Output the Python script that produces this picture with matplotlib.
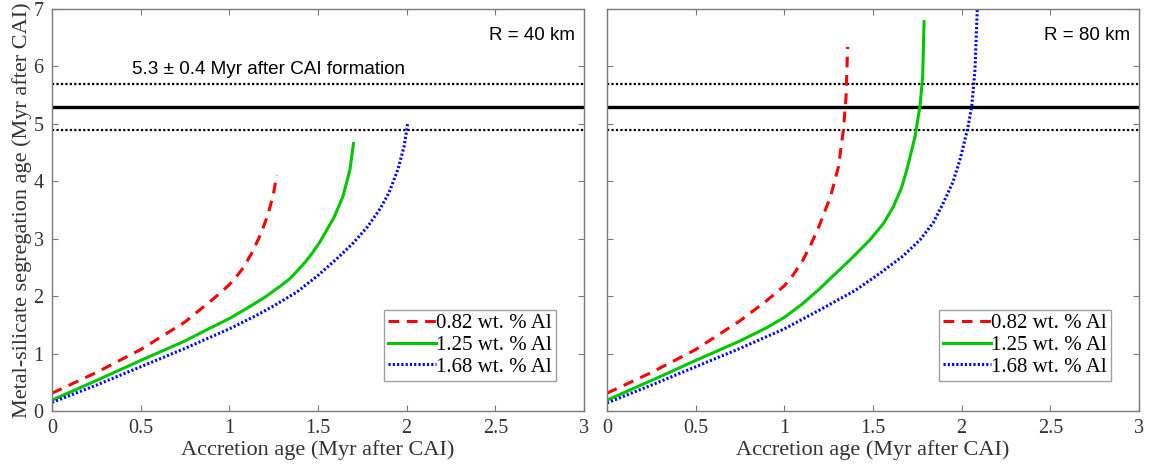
import matplotlib
matplotlib.use("Agg")
import matplotlib.pyplot as plt

# ---- data ----
# R = 40 km panel
x40_red = [0.0, 0.25, 0.5, 0.75, 0.94, 1.0, 1.04, 1.08, 1.13, 1.18, 1.22, 1.25, 1.267]
y40_red = [0.31, 0.67, 1.07, 1.55, 2.03, 2.2, 2.34, 2.5, 2.77, 3.1, 3.44, 3.8, 4.11]
x40_green = [0.0, 0.25, 0.5, 0.75, 0.87, 1.0, 1.1, 1.2, 1.29, 1.34, 1.38, 1.43, 1.47, 1.51, 1.54, 1.59, 1.64, 1.68, 1.70]
y40_green = [0.19, 0.53, 0.88, 1.22, 1.41, 1.61, 1.79, 1.98, 2.18, 2.3, 2.43, 2.6, 2.76, 2.94, 3.1, 3.37, 3.73, 4.2, 4.66]
x40_blue = [0.0, 0.25, 0.5, 0.75, 1.0, 1.15, 1.25, 1.38, 1.5, 1.62, 1.7, 1.78, 1.85, 1.9, 1.95, 1.985, 2.0, 2.005]
y40_blue = [0.15, 0.45, 0.77, 1.09, 1.43, 1.66, 1.83, 2.07, 2.36, 2.69, 2.93, 3.21, 3.52, 3.8, 4.2, 4.6, 4.89, 5.0]

# R = 80 km panel
x80_red = [0.0, 0.25, 0.5, 0.75, 0.9, 1.0, 1.05, 1.1, 1.15, 1.2, 1.26, 1.305, 1.333, 1.348, 1.357]
y80_red = [0.31, 0.67, 1.07, 1.57, 1.92, 2.18, 2.37, 2.6, 2.9, 3.25, 3.73, 4.25, 4.89, 5.47, 6.34]
x80_green = [0.0, 0.25, 0.5, 0.75, 0.9, 1.0, 1.1, 1.2, 1.257, 1.37, 1.483, 1.56, 1.615, 1.66, 1.69, 1.737, 1.765, 1.78, 1.788]
y80_green = [0.19, 0.53, 0.88, 1.22, 1.45, 1.63, 1.86, 2.13, 2.3, 2.63, 2.98, 3.27, 3.56, 3.88, 4.19, 4.78, 5.31, 5.82, 6.78]
x80_blue = [0.0, 0.25, 0.5, 0.75, 1.0, 1.2, 1.4, 1.54, 1.67, 1.765, 1.84, 1.896, 1.95, 1.99, 2.034, 2.057, 2.075, 2.088]
y80_blue = [0.14, 0.45, 0.77, 1.09, 1.43, 1.76, 2.1, 2.4, 2.7, 2.98, 3.28, 3.62, 3.98, 4.37, 4.92, 5.31, 5.94, 6.98]

series_labels = ["0.82 wt. % Al", "1.25 wt. % Al", "1.68 wt. % Al"]
radius_labels = ["R = 40 km", "R = 80 km"]
ref_age = 5.3
ref_err = 0.4
ref_text = "5.3 \u00b1 0.4 Myr after CAI formation"
xticks = [0, 0.5, 1, 1.5, 2, 2.5, 3]
xticklabels = ["0", "0.5", "1", "1.5", "2", "2.5", "3"]
yticks = [0, 1, 2, 3, 4, 5, 6, 7]

# ---- figure ----
fig = plt.figure(figsize=(11.5, 4.71), dpi=100)
W, H = 1150, 471
ax1 = fig.add_axes([52 / W, 1 - 411 / H, (584 - 52) / W, (411 - 9) / H])
ax2 = fig.add_axes([607 / W, 1 - 411 / H, (1139 - 607) / W, (411 - 9) / H])

serif = "Liberation Serif"
sans = "Liberation Sans"
frame_col = "#7a7a7a"
text_col = "#333333"

panels = [
    (ax1, (x40_red, y40_red), (x40_green, y40_green), (x40_blue, y40_blue), radius_labels[0]),
    (ax2, (x80_red, y80_red), (x80_green, y80_green), (x80_blue, y80_blue), radius_labels[1]),
]

for i, (ax, red, green, blue, rlab) in enumerate(panels):
    ax.axhline(ref_age, color="black", lw=2.4)
    ax.axhline(ref_age + ref_err, color="black", lw=1.6, ls=(0, (1, 1)))
    ax.axhline(ref_age - ref_err, color="black", lw=1.6, ls=(0, (1, 1)))
    l1, = ax.plot(red[0], red[1], color="#ff0000", lw=2.2, ls=(0, (3.5, 2.5)), label=series_labels[0])
    l2, = ax.plot(green[0], green[1], color="#00c800", lw=2.2, ls="-", label=series_labels[1])
    l3, = ax.plot(blue[0], blue[1], color="#0000ff", lw=2.2, ls=(0, (0.7, 0.7)), label=series_labels[2])
    ax.set_xlim(0, 3)
    ax.set_ylim(0, 7)
    ax.set_xticks(xticks)
    ax.set_xticklabels(xticklabels, fontfamily=serif, fontsize=14.5, color=text_col)
    ax.set_yticks(yticks)
    ax.tick_params(direction="in", top=True, right=True, length=4, width=0.8,
                   color=frame_col, pad=6)
    for s in ax.spines.values():
        s.set_color(frame_col)
        s.set_linewidth(1.0)
    ax.set_xlabel("Accretion age (Myr after CAI)", fontfamily=serif, fontsize=16,
                  color=text_col, labelpad=1)
    ax.text(0.983, 0.955, rlab, transform=ax.transAxes, ha="right", va="top",
            fontfamily=sans, fontsize=13.5)
    leg = ax.legend(handles=[l1, l2, l3], loc="lower right", bbox_to_anchor=(0.947, 0.075),
                    prop={"family": serif, "size": 15}, frameon=True, fancybox=False,
                    edgecolor="#888888", handlelength=2.3, handletextpad=0.0,
                    borderpad=0.2, labelspacing=0.1, borderaxespad=0.0)
    leg.get_frame().set_linewidth(1.0)
    if i == 0:
        ax.set_yticklabels([str(v) for v in yticks], fontfamily=serif, fontsize=14.5, color=text_col)
        ax.set_ylabel("Metal-silicate segregation age (Myr after CAI)", fontfamily=serif,
                      fontsize=16, color=text_col, labelpad=1)
        ax.text(0.451, 5.94, ref_text, ha="left", va="center", fontfamily=sans, fontsize=13.6)
    else:
        ax.set_yticklabels([])

fig.savefig("out.png", dpi=100)
